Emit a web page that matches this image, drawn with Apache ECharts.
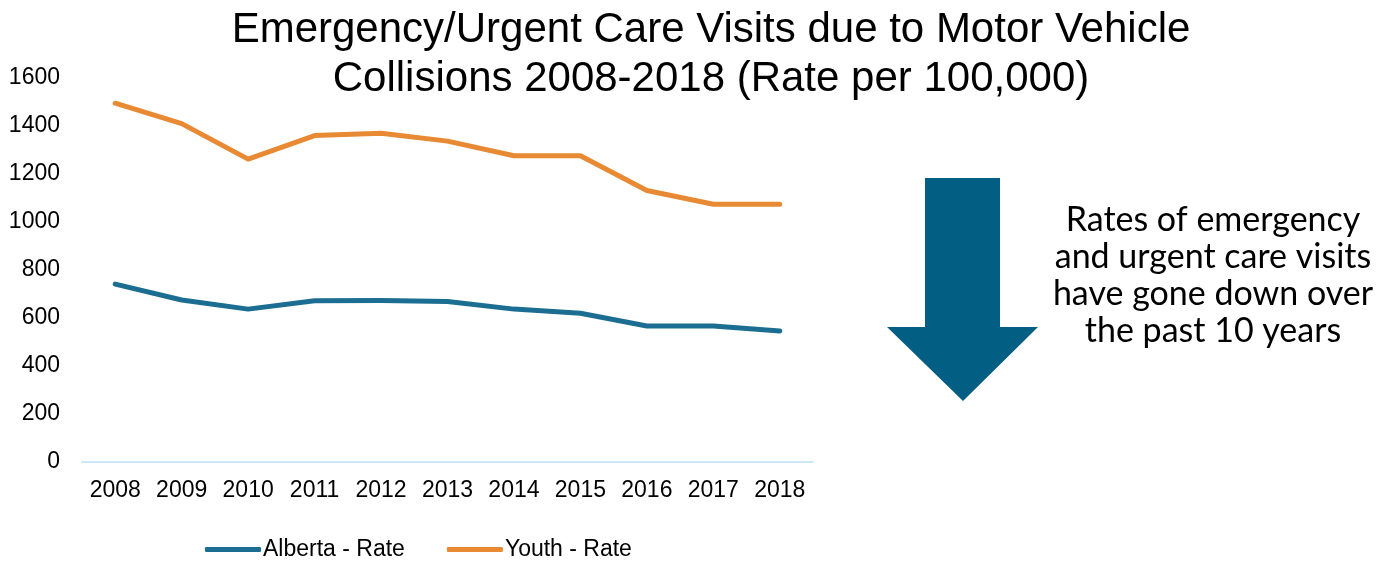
<!DOCTYPE html>
<html>
<head>
<meta charset="utf-8">
<script src="https://cdn.jsdelivr.net/npm/echarts@6/dist/echarts.min.js"></script>
<style>html,body{margin:0;padding:0;background:#fff;}#c{width:1395px;height:561px;}</style>
</head>
<body>
<div id="c"></div>
<script>
const years = ['2008','2009','2010','2011','2012','2013','2014','2015','2016','2017','2018'];
const albertaRate = [741, 675, 637, 672, 673, 669, 637, 620, 567, 567, 546];
const youthRate = [1495, 1410, 1262, 1360, 1370, 1337, 1276, 1276, 1131, 1074, 1074];
const titleText = 'Emergency/Urgent Care Visits due to Motor Vehicle\nCollisions 2008-2018 (Rate per 100,000)';
const noteText = 'Rates of emergency\nand urgent care visits\nhave gone down over\nthe past 10 years';

const chart = echarts.init(document.getElementById('c'));
const font = '"Liberation Sans", Arial, sans-serif';
chart.setOption({
  animation: false,
  title: {
    text: titleText,
    left: 706, top: 1, textAlign: 'center',
    textStyle: { fontFamily: font, fontSize: 42, fontWeight: 'normal', color: '#000', lineHeight: 49 }
  },
  legend: {
    top: 533, left: 200,
    itemWidth: 56, itemHeight: 5, itemGap: 42,
    icon: 'roundRect',
    textStyle: { fontFamily: font, fontSize: 23, color: '#000', padding: [0,0,0,-3] },
    data: ['Alberta - Rate', 'Youth - Rate']
  },
  grid: { left: 82, right: 582, top: 78, bottom: 99 },
  xAxis: {
    type: 'category', data: years, boundaryGap: true,
    axisLine: { lineStyle: { color: '#cde9f6', width: 2 } },
    axisTick: { show: false },
    axisLabel: { fontFamily: font, fontSize: 23, color: '#000', margin: 17, interval: 0 }
  },
  yAxis: {
    type: 'value', min: 0, max: 1600, interval: 200,
    axisLine: { show: false }, axisTick: { show: false },
    splitLine: { show: false },
    axisLabel: { fontFamily: font, fontSize: 23, color: '#000', margin: 22, formatter: (v) => String(v) }
  },
  series: [
    { name: 'Alberta - Rate', type: 'line', data: albertaRate, symbol: 'none',
      lineStyle: { color: '#1b6e92', width: 5, cap: 'round', join: 'round' }, itemStyle: { color: '#1b6e92' } },
    { name: 'Youth - Rate', type: 'line', data: youthRate, symbol: 'none',
      lineStyle: { color: '#e88a33', width: 5, cap: 'round', join: 'round' }, itemStyle: { color: '#e88a33' } }
  ],
  graphic: [
    { type: 'polygon', shape: { points: [[925,178],[1000,178],[1000,327],[1038,327],[963,401],[887,327],[925,327]] },
      style: { fill: '#035e84' } },
    { type: 'text', x: 1213, y: 202, style: { text: noteText, fontFamily: 'Lato, "Open Sans", sans-serif', fontSize: 34,
      lineHeight: 37, fill: '#000', align: 'center', verticalAlign: 'top' } }
  ]
});
</script>
</body>
</html>
